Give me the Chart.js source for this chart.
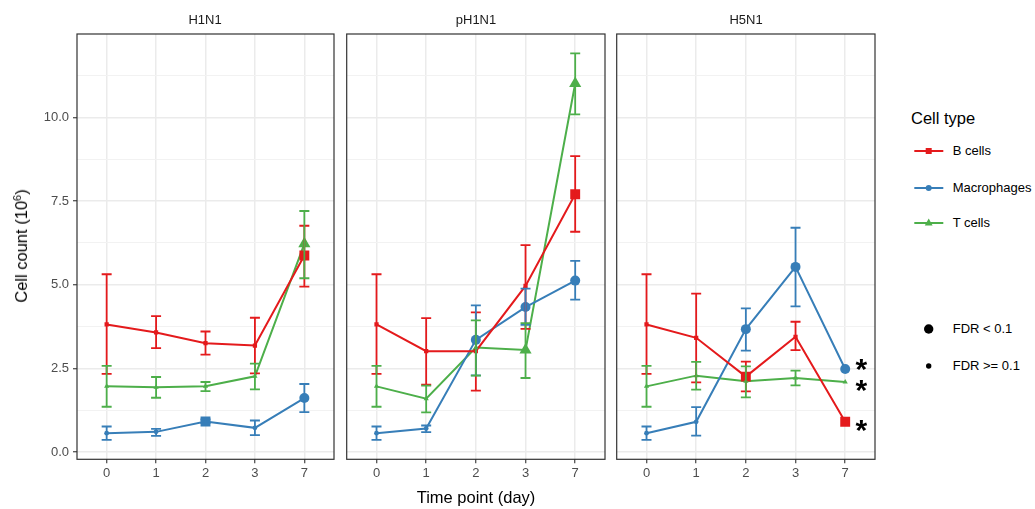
<!DOCTYPE html>
<html>
<head>
<meta charset="utf-8">
<script src="https://cdn.jsdelivr.net/npm/chart.js@4.4.0/dist/chart.umd.min.js"></script>
<style>
  body { margin: 0; background: #fff; font-family: "Liberation Sans", Arial, sans-serif; }
  #wrap { position: relative; width: 1035px; height: 509px; overflow: hidden; }
  canvas { position: absolute; top: 0; }
  .txt { position: absolute; white-space: nowrap; color: #000; line-height: 20px; height: 20px; }
  .key { position: absolute; }
</style>
</head>
<body>
<div id="wrap">
  <canvas id="p0" width="340" height="509" style="left:0px"></canvas>
  <canvas id="p1" width="270" height="509" style="left:340px"></canvas>
  <canvas id="p2" width="270" height="509" style="left:610px"></canvas>

  <div class="txt" style="left:205px;top:10px;font-size:13px;color:#1a1a1a;transform:translateX(-50%)">H1N1</div>
  <div class="txt" style="left:476px;top:10px;font-size:13px;color:#1a1a1a;transform:translateX(-50%)">pH1N1</div>
  <div class="txt" style="left:746px;top:10px;font-size:13px;color:#1a1a1a;transform:translateX(-50%)">H5N1</div>

  <div class="txt" style="left:476px;top:487px;font-size:16.5px;transform:translateX(-50%)">Time point (day)</div>
  <div class="txt" style="left:21px;top:246px;font-size:16.5px;transform:translate(-50%,-50%) rotate(-90deg)">Cell count (10<sup style="font-size:11px;line-height:0">6</sup>)</div>

  <div class="txt" style="left:911px;top:108px;font-size:16.5px">Cell type</div>
  <svg class="key" style="left:912px;top:143px" width="34" height="16">
    <line x1="2.3" y1="8" x2="31.3" y2="8" stroke="#E41A1C" stroke-width="2"/>
    <rect x="13.7" y="5" width="6" height="6" fill="#E41A1C"/>
  </svg>
  <div class="txt" style="left:952.7px;top:141px;font-size:13px">B cells</div>
  <svg class="key" style="left:912px;top:179.7px" width="34" height="16">
    <line x1="2.3" y1="8" x2="31.3" y2="8" stroke="#377EB8" stroke-width="2"/>
    <circle cx="16.7" cy="8" r="3" fill="#377EB8"/>
  </svg>
  <div class="txt" style="left:952.7px;top:177.7px;font-size:13px">Macrophages</div>
  <svg class="key" style="left:912px;top:215.3px" width="34" height="16">
    <line x1="2.3" y1="8" x2="31.3" y2="8" stroke="#4DAF4A" stroke-width="2"/>
    <polygon points="16.7,3.6 20.6,10.4 12.8,10.4" fill="#4DAF4A"/>
  </svg>
  <div class="txt" style="left:952.7px;top:213.3px;font-size:13px">T cells</div>

  <svg class="key" style="left:912px;top:321.3px" width="34" height="16">
    <circle cx="16.7" cy="8" r="4.7" fill="#000"/>
  </svg>
  <div class="txt" style="left:952.7px;top:319.3px;font-size:13px">FDR &lt; 0.1</div>
  <svg class="key" style="left:912px;top:357.7px" width="34" height="16">
    <circle cx="16.7" cy="8" r="2.7" fill="#000"/>
  </svg>
  <div class="txt" style="left:952.7px;top:355.7px;font-size:13px">FDR &gt;= 0.1</div>
</div>

<script>
// categories
const days = ['0', '1', '2', '3', '7'];
const panels = ['H1N1', 'pH1N1', 'H5N1'];
const cellTypes = ['B cells', 'Macrophages', 'T cells'];
const yTicks = [0, 1.25, 2.5, 3.75, 5, 6.25, 7.5, 8.75, 10, 11.25];

// values per panel (H1N1, pH1N1, H5N1), one entry per day
const bCells = [[3.81, 3.57, 3.25, 3.18, 5.87], [3.81, 3.01, 3.01, 4.96, 7.70], [3.81, 3.41, 2.25, 3.44, 0.90]];
const bCellsLow = [[2.33, 3.10, 2.91, 2.35, 4.94], [2.33, 2.01, 1.83, 3.68, 6.58], [2.33, 2.08, 1.81, 3.04, null]];
const bCellsHigh = [[5.31, 4.06, 3.60, 4.01, 6.76], [5.31, 4.00, 4.17, 6.18, 8.84], [5.31, 4.73, 2.70, 3.89, null]];
const bCellsFdr = [[0, 0, 0, 0, 1], [0, 0, 0, 0, 1], [0, 0, 1, 0, 1]];

const macro = [[0.56, 0.60, 0.91, 0.72, 1.61], [0.56, 0.70, 3.35, 4.33, 5.12], [0.56, 0.90, 3.67, 5.53, 2.48]];
const macroLow = [[0.36, 0.48, 0.86, 0.50, 1.19], [0.36, 0.59, 2.29, 3.80, 4.55], [0.36, 0.49, 3.03, 4.35, null]];
const macroHigh = [[0.76, 0.69, 0.97, 0.94, 2.03], [0.76, 0.79, 4.38, 4.88, 5.71], [0.76, 1.34, 4.29, 6.70, null]];
const macroFdr = [[0, 0, 1, 0, 1], [0, 0, 1, 1, 1], [0, 0, 1, 1, 1]];

const tCells = [[1.96, 1.93, 1.96, 2.26, 6.22], [1.96, 1.59, 3.12, 3.05, 11.01], [1.96, 2.28, 2.11, 2.21, 2.09]];
const tCellsLow = [[1.35, 1.62, 1.82, 1.87, 5.19], [1.35, 1.18, 2.28, 2.21, 10.09], [1.35, 1.86, 1.63, 1.99, null]];
const tCellsHigh = [[2.57, 2.24, 2.09, 2.64, 7.20], [2.57, 1.98, 3.93, 3.85, 11.91], [2.57, 2.69, 2.56, 2.43, null]];
const tCellsFdr = [[0, 0, 0, 0, 1], [0, 0, 0, 1, 1], [0, 0, 0, 0, 0]];

// asterisk label heights at day 7 (null = none)
const stars = [[null, null, null], [null, null, null], [0.79, 2.61, 1.96]];

const means = [bCells, macro, tCells];
const lows = [bCellsLow, macroLow, tCellsLow];
const highs = [bCellsHigh, macroHigh, tCellsHigh];
const fdrs = [bCellsFdr, macroFdr, tCellsFdr];

const colors = ['#E41A1C', '#377EB8', '#4DAF4A'];
const shapes = ['rect', 'circle', 'triangle'];
const bigR = { rect: 7, circle: 5, triangle: 7 };
const smallR = { rect: 3, circle: 2.4, triangle: 3 };
const family = '"Liberation Sans", Arial, sans-serif';

// odd one in the original: the H1N1 day 2 macrophage point is a square
function shapeFor(k, p, j) {
  if (k === 1 && p === 0 && j === 2) return 'rect';
  return shapes[k];
}

const deco = {
  id: 'deco',
  afterDatasetsDraw(chart, args, opts) {
    const { ctx, chartArea: a, scales: { x, y } } = chart;
    const p = opts.panel;
    ctx.save();
    ctx.beginPath();
    ctx.rect(a.left, a.top, a.width, a.height);
    ctx.clip();
    // error bars
    cellTypes.forEach((t, k) => {
      ctx.strokeStyle = colors[k];
      ctx.lineWidth = 1.8;
      lows[k][p].forEach((lo, j) => {
        if (lo == null) return;
        const px = x.getPixelForValue(j);
        const y1 = y.getPixelForValue(lo);
        const y2 = y.getPixelForValue(highs[k][p][j]);
        ctx.beginPath();
        ctx.moveTo(px, y1); ctx.lineTo(px, y2);
        ctx.moveTo(px - 5, y1); ctx.lineTo(px + 5, y1);
        ctx.moveTo(px - 5, y2); ctx.lineTo(px + 5, y2);
        ctx.stroke();
      });
    });
    // asterisks
    ctx.fillStyle = '#000';
    ctx.font = 'bold 30px ' + family;
    ctx.textAlign = 'left';
    ctx.textBaseline = 'alphabetic';
    stars[p].forEach((s, k) => {
      if (s == null) return;
      const m = ctx.measureText('*');
      const cx = x.getPixelForValue(4) + 16.3;
      const cy = y.getPixelForValue(s);
      const bx = cx - (m.actualBoundingBoxRight - m.actualBoundingBoxLeft) / 2;
      const by = cy + (m.actualBoundingBoxAscent - m.actualBoundingBoxDescent) / 2;
      ctx.fillText('*', bx, by);
    });
    ctx.restore();
    // panel border
    ctx.save();
    ctx.strokeStyle = '#333333';
    ctx.lineWidth = 1.2;
    ctx.strokeRect(a.left, a.top, a.width, a.height);
    ctx.restore();
  }
};

function makePanel(p) {
  const first = p === 0;
  const datasets = [];
  cellTypes.forEach((t, k) => {
    const pts = means[k][p].map((v, j) => ({ x: j, y: v }));
    datasets.push({
      label: t + ' line', data: pts, order: 10 + k,
      borderColor: colors[k], borderWidth: 2, pointRadius: 0, fill: false, tension: 0
    });
    datasets.push({
      label: t, data: pts, order: 3 - k, showLine: false,
      backgroundColor: colors[k], borderWidth: 0,
      pointStyle: means[k][p].map((v, j) => shapeFor(k, p, j)),
      pointRadius: fdrs[k][p].map((f, j) => (f ? bigR : smallR)[shapeFor(k, p, j)]),
      pointBorderWidth: 0
    });
  });

  new Chart(document.getElementById('p' + p), {
    type: 'line',
    data: { datasets },
    options: {
      responsive: false,
      animation: false,
      events: [],
      layout: {
        autoPadding: false,
        padding: { left: first ? 0 : 6.7, right: first ? 6 : 5, top: 34, bottom: 29.7 }
      },
      plugins: { legend: { display: false }, tooltip: { enabled: false }, deco: { panel: p } },
      scales: {
        x: {
          type: 'linear', min: -0.6, max: 4.6,
          afterBuildTicks: s => { s.ticks = days.map((d, j) => ({ value: j })); },
          afterFit: s => { s.height = 20; },
          ticks: {
            callback: v => days[v], color: '#4d4d4d', autoSkip: false, maxRotation: 0,
            font: { size: 13, family }, padding: 2
          },
          grid: { color: '#ebebeb', lineWidth: 1.5, tickLength: 4, tickColor: '#333333', tickWidth: 1.1 },
          border: { display: false }
        },
        y: {
          type: 'linear', min: -0.22, max: 12.49,
          afterBuildTicks: s => { s.ticks = yTicks.map(v => ({ value: v })); },
          afterFit: s => { s.width = first ? 77 : 0; },
          ticks: {
            display: first,
            callback: v => (v % 2.5 === 0 ? v.toFixed(1) : ''),
            color: '#4d4d4d', font: { size: 13, family }, padding: 4
          },
          grid: {
            drawTicks: first,
            tickLength: 4,
            color: c => (c.tick && c.tick.value % 2.5 === 0 ? '#ebebeb' : '#f2f2f2'),
            lineWidth: c => (c.tick && c.tick.value % 2.5 === 0 ? 1.5 : 1),
            tickColor: c => (c.tick && c.tick.value % 2.5 === 0 ? '#333333' : 'rgba(0,0,0,0)'),
            tickWidth: 1.1
          },
          border: { display: false }
        }
      }
    },
    plugins: [deco]
  });
}

panels.forEach((name, p) => makePanel(p));
</script>
</body>
</html>
